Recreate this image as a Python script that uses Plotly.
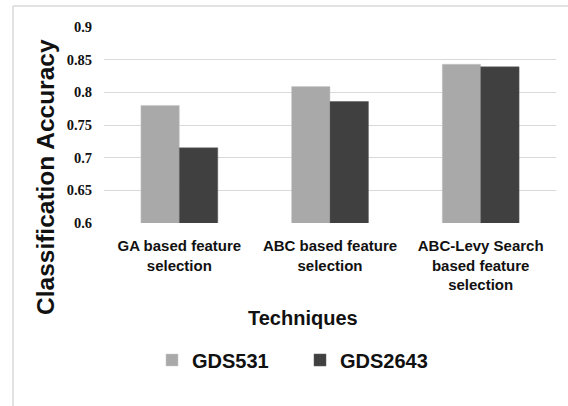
import plotly.graph_objects as go

# Techniques compared and their classification accuracies on two datasets
techniques = ["GA based feature<br>selection",
              "ABC based feature<br>selection",
              "ABC-Levy Search<br>based feature<br>selection"]
gds531 = [0.78, 0.809, 0.843]
gds2643 = [0.715, 0.786, 0.839]
y_ticks = [0.6, 0.65, 0.7, 0.75, 0.8, 0.85, 0.9]
y_tick_labels = ["0.6", "0.65", "0.7", "0.75", "0.8", "0.85", "0.9"]

sans = "Liberation Sans, Arial, sans-serif"
serif = "Liberation Serif, Times New Roman, serif"

# plot area in pixels: x 104..556, y 27..223
L, R, T, B = 104, 12, 27, 183
PW, PH = 568 - L - R, 406 - T - B


def px_x(x):
    return (x - L) / PW


def px_y(y):
    return (406 - B - y) / PH


fig = go.Figure()
fig.add_trace(go.Bar(name="GDS531", x=techniques, y=gds531,
                     marker=dict(color="#a9a9a9", line=dict(color="#c8c8c8", width=0.5))))
fig.add_trace(go.Bar(name="GDS2643", x=techniques, y=gds2643,
                     marker=dict(color="#404040", line=dict(color="#5a5a5a", width=0.5))))

fig.update_layout(
    width=568, height=406,
    margin=dict(l=L, r=R, t=T, b=B),
    paper_bgcolor="white", plot_bgcolor="white",
    barmode="group", bargap=0.49, bargroupgap=0,
    showlegend=True,
    legend=dict(orientation="h", x=px_x(152), xanchor="left", y=px_y(360), yanchor="middle",
                font=dict(family=sans, size=20, color="#111111", weight="bold"),
                entrywidth=103, entrywidthmode="pixels", traceorder="normal"),
    xaxis=dict(showgrid=False, showline=False, ticks="",
               tickfont=dict(family=sans, size=15, color="#111111", weight="bold"),
               ticklabelstandoff=12),
    yaxis=dict(range=[0.6, 0.9], tickvals=y_ticks, ticktext=y_tick_labels,
               showgrid=True, gridcolor="#d9d9d9", gridwidth=1,
               zeroline=False, showline=False, ticks="",
               tickfont=dict(family=serif, size=14.5, color="#111111", weight="bold"),
               ticklabelstandoff=11),
    shapes=[
        # outer chart frame
        dict(type="line", xref="paper", yref="paper",
             x0=px_x(13), x1=px_x(580), y0=px_y(6), y1=px_y(6),
             line=dict(color="#d9d9d9", width=1.5)),
        dict(type="line", xref="paper", yref="paper",
             x0=px_x(13), x1=px_x(13), y0=px_y(6), y1=px_y(420),
             line=dict(color="#d9d9d9", width=1.5)),
    ],
    annotations=[
        dict(text="<b>Techniques</b>", xref="paper", yref="paper",
             x=px_x(303), y=px_y(318), xanchor="center", yanchor="middle",
             showarrow=False, font=dict(family=sans, size=20, color="#111111")),
        dict(text="<b>Classification Accuracy</b>", xref="paper", yref="paper",
             x=px_x(45), y=px_y(177), xanchor="center", yanchor="middle",
             textangle=-90, showarrow=False,
             font=dict(family=sans, size=24.5, color="#111111")),
    ],
)

fig.write_html("out.html")
